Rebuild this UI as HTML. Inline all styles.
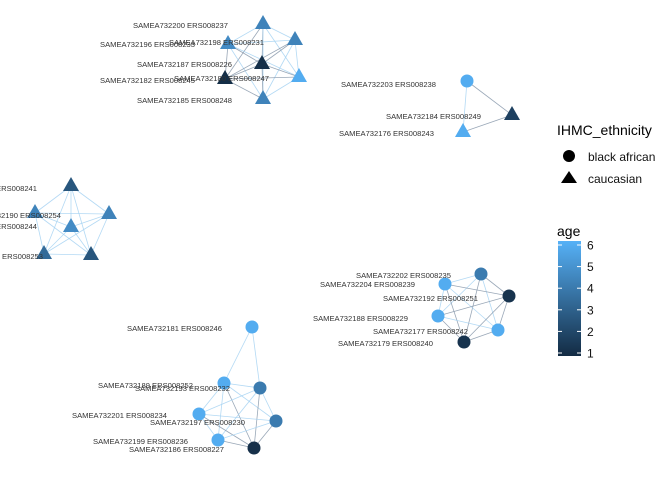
<!DOCTYPE html>
<html><head><meta charset="utf-8"><style>
body{margin:0;background:#fff}
svg{display:block;font-family:"Liberation Sans",sans-serif}
</style></head><body>
<svg id="chart" width="672" height="480" viewBox="0 0 672 480">
<defs><linearGradient id="ageGrad" x1="0" y1="1" x2="0" y2="0">
<stop offset="0" stop-color="#132B43"/><stop offset="1" stop-color="#56B1F7"/></linearGradient></defs>
<g id="edges"></g>
<g id="nodes"></g>
<g id="labels" font-size="7.6" fill="#333"></g>
<g>
<text x="557" y="135" font-size="14" fill="#000">IHMC_ethnicity</text>
<circle cx="569" cy="156" r="6" fill="#000"/>
<text x="588" y="161" font-size="12" fill="#111">black african</text>
<polygon points="569,171 577,183 561,183" fill="#000"/>
<text x="588" y="183" font-size="12" fill="#111">caucasian</text>
</g>
<g id="ageLegend">
<text x="557" y="236" font-size="14" fill="#000">age</text>
<rect x="558" y="241" width="23" height="115" fill="url(#ageGrad)"/>
</g>
</svg>
<script>
const nodeLabels=["SAMEA732200 ERS008237","SAMEA732196 ERS008233","SAMEA732198 ERS008231","SAMEA732187 ERS008226","SAMEA732182 ERS008245","SAMEA732180 ERS008247","SAMEA732185 ERS008248",
"SAMEA732203 ERS008238","SAMEA732184 ERS008249","SAMEA732176 ERS008243",
"SAMEA732194 ERS008241","SAMEA732190 ERS008254","SAMEA732195 ERS008244","SAMEA732191 ERS008250","SAMEA732183 ERS008253","SAMEA732178 ERS008228",
"SAMEA732181 ERS008246","SAMEA732189 ERS008252","SAMEA732193 ERS008232","SAMEA732201 ERS008234","SAMEA732197 ERS008230","SAMEA732199 ERS008236","SAMEA732186 ERS008227",
"SAMEA732202 ERS008235","SAMEA732204 ERS008239","SAMEA732192 ERS008251","SAMEA732188 ERS008229","SAMEA732177 ERS008242","SAMEA732179 ERS008240"];
const nodeX=[263,228,295,262,225,299,263, 467,512,463, 71,35,71,109,44,91, 252,224,260,199,276,218,254, 481,445,509,438,498,464];
const nodeY=[24,44,40,64,79,77,99, 81,115,132, 186,213,227,214,254,255, 327,383,388,414,421,440,448, 274,284,296,316,330,342];
const nodeAge=[4.3,4.6,4.3,1.2,1.1,5.8,4.3, 5.8,1.8,5.8, 2.6,4.3,4.6,4.3,3.4,2.6, 5.8,5.8,4,5.8,4,5.8,1.2, 4,5.8,1.3,5.8,5.8,1.3];
const nodeShape=["t","t","t","t","t","t","t", "c","t","t", "t","t","t","t","t","t", "c","c","c","c","c","c","c", "c","c","c","c","c","c"];
const nodeGroup=[0,0,0,0,0,0,0, 1,1,1, 2,2,2,2,2,2, 3,3,3,3,3,3,3, 4,4,4,4,4,4];
const labelX=[133,100,169,137,100,174,137, 341,386,339, -58,-34,-58,-200,-52,-200, 127,98,135,72,150,93,129, 356,320,383,313,373,338];
const labelY=[28,47,45,67,83,81,103, 87,119,136, 191,218,229,0,259,0, 331,388,391,418,425,444,452, 278,287,301,321,334,346];
const ageTicks=[1,2,3,4,5,6];
const ageMin=1, ageMax=6;
function ageColor(a){const t=(a-ageMin)/(ageMax-ageMin);
 const c0=[19,43,67],c1=[86,177,247];
 return "rgb("+c0.map((v,i)=>Math.round(v+(c1[i]-v)*t)).join(",")+")";}
const NS="http://www.w3.org/2000/svg";
const eg=document.getElementById("edges"),ng=document.getElementById("nodes"),lg=document.getElementById("labels");
for(let i=0;i<nodeX.length;i++)for(let j=i+1;j<nodeX.length;j++){
 if(nodeGroup[i]!==nodeGroup[j])continue;
 if(i===16&&j>18)continue;
 const l=document.createElementNS(NS,"line");
 l.setAttribute("x1",nodeX[i]);l.setAttribute("y1",nodeY[i]);l.setAttribute("x2",nodeX[j]);l.setAttribute("y2",nodeY[j]);
 const dark=Math.min(nodeAge[i],nodeAge[j])<2;
 l.setAttribute("stroke",dark?"#8798aa":"#a6d2f2");l.setAttribute("stroke-width","0.8");l.setAttribute("stroke-opacity","0.85");
 
 
 eg.appendChild(l);}
for(let i=0;i<nodeX.length;i++){
 const x=nodeX[i],y=nodeY[i];let el;
 if(nodeShape[i]==="t"){el=document.createElementNS(NS,"polygon");
  el.setAttribute("points",`${x},${y-9} ${x+8},${y+5} ${x-8},${y+5}`);}
 else{el=document.createElementNS(NS,"circle");el.setAttribute("cx",x);el.setAttribute("cy",y);el.setAttribute("r",6.5);}
 el.setAttribute("fill",ageColor(nodeAge[i]));
 
 
 ng.appendChild(el);
 const t=document.createElementNS(NS,"text");
 t.setAttribute("x",labelX[i]);t.setAttribute("y",labelY[i]);t.textContent=nodeLabels[i];
 
 
 lg.appendChild(t);}
const al=document.getElementById("ageLegend");
const yTop=245,yBot=353;
ageTicks.forEach(a=>{const y=yBot-(a-ageMin)/(ageMax-ageMin)*(yBot-yTop);
 [558,577].forEach(x0=>{const l=document.createElementNS(NS,"line");
  l.setAttribute("x1",x0);l.setAttribute("x2",x0+4);l.setAttribute("y1",y);l.setAttribute("y2",y);l.setAttribute("stroke","#fff");
  
  
  al.appendChild(l);});
 const t=document.createElementNS(NS,"text");t.setAttribute("x",587);t.setAttribute("y",y+4.5);t.setAttribute("font-size","12");t.setAttribute("fill","#111");t.textContent=a;
 
 
 al.appendChild(t);});
</script>
</body></html>
